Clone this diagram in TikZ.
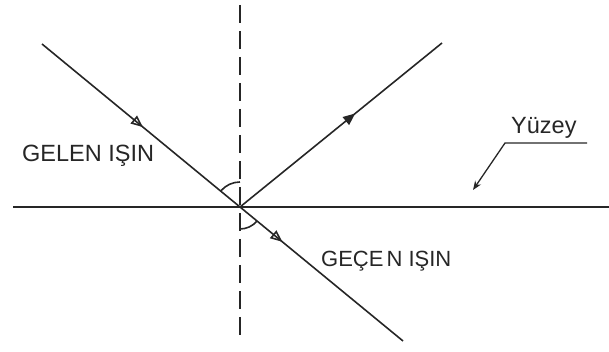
\documentclass[tikz,border=0pt]{standalone}
\usepackage{fontspec}
\setmainfont{Liberation Sans}
\usetikzlibrary{arrows.meta,positioning,calc,decorations.markings}

\begin{document}
\begin{tikzpicture}[x=1pt, y=1pt, font=\fontsize{23.5}{28}\selectfont,
                    >={Triangle[open, length=12pt, width=10pt]}]
  \tikzset{ray/.style={line width=1.6pt, black!85},
           midarrow/.style={postaction={decorate},
             decoration={markings, mark=at position #1 with {\arrow{>}}}},
           midfilled/.style={postaction={decorate},
             decoration={markings, mark=at position #1 with {\arrow{Triangle[length=12pt, width=10pt]}}}},
           normalline/.style={line width=1.6pt, black!85, dash pattern=on 18pt off 8pt},
           lbl/.style={anchor=base west, inner sep=0pt, text=black!85}}
  \useasboundingbox (0,0) rectangle (609,352);

  % point of incidence and the ends of the lines
  \coordinate (O)  at (240,145);
  \coordinate (Si) at (13,145);
  \coordinate (So) at (609,145);
  \coordinate (Nt) at (240,347);
  \coordinate (Nb) at (240,10);
  \coordinate (In) at (42,308);
  \coordinate (Re) at (442,309);
  \coordinate (Tr) at (403,11);

  % surface and normal
  \draw[ray] (Si) -- (So);
  \draw[normalline] (Nt) -- (Nb);

  % incoming, reflected and passing rays
  \draw[ray, midarrow=0.51] (In) -- (O);
  \draw[ray, midfilled=0.57] (O) -- (Re);
  \draw[ray, midarrow=0.26]  (O) -- (Tr);

  % angles to the normal
  \draw[ray] ($(O)+(140.5:25)$) arc[start angle=140.5, end angle=90, radius=25];
  \draw[ray] ($(O)+(270:22)$) arc[start angle=270, end angle=320.6, radius=22];

  % labels
  \node[lbl] (gelen) at (22,190) {GELEN IŞIN};
  \node[lbl, font=\fontsize{22}{26}\selectfont] (gecen) at (321,85) {GEÇE\kern3pt N IŞIN};
  \node[lbl] (yuzey) at (511,218) {Yüzey};

  % leader to the surface
  \coordinate (Ya) at (587,209);
  \coordinate (Yb) at (505,209);
  \coordinate (Yt) at (473,162);
  \draw[ray, line width=1.3pt, -{Stealth[length=9pt, width=7pt]}] (Ya) -- (Yb) -- (Yt);
\end{tikzpicture}
\end{document}
